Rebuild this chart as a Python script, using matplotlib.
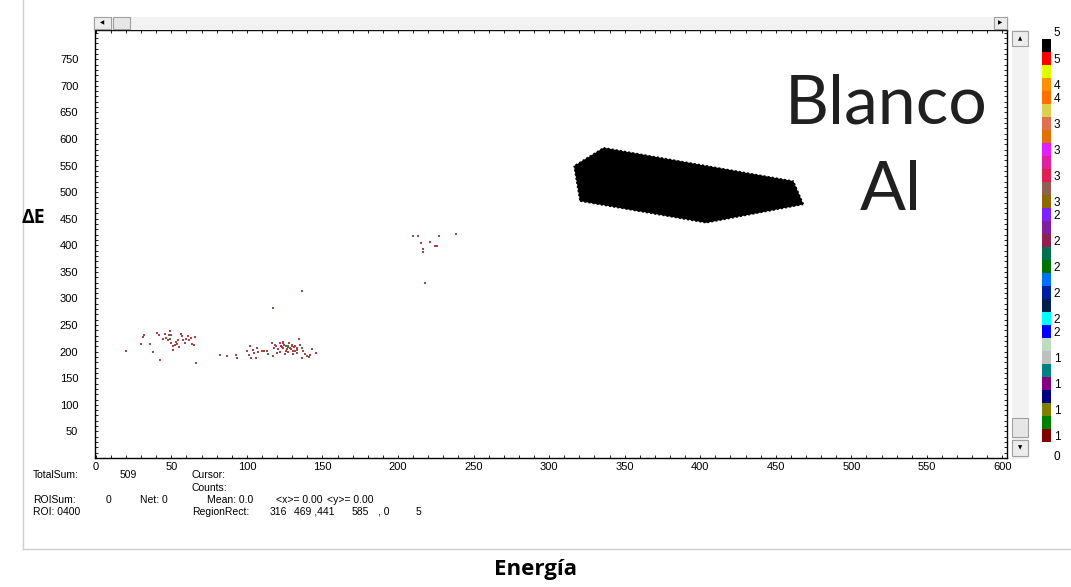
import matplotlib
matplotlib.use('Agg')
import matplotlib.pyplot as plt
from matplotlib.patches import Rectangle, Polygon
from matplotlib.lines import Line2D
from matplotlib.ticker import MultipleLocator

# Events outside the gate (channel E, channel dE), low counts
energia = [19.9, 30.2, 32, 31.3, 36.2, 38, 40.6, 41.9, 42.4, 45.7, 46.8, 48.5, 49, 50,
           44.6, 47.9, 49.7, 51.2, 50.8, 52.3, 53.8, 53, 54.5, 55.2, 56.1, 56.9, 57.8,
           58.9, 59.6, 61.1, 61.8, 63.3, 64, 65.6, 65.1, 66.6,
           82, 87, 92.7, 93.2, 100.2, 102, 101.5, 102.4, 104.2, 104.6, 106.4, 105.9,
           107.5, 109.7, 111.3, 113.5, 116.3, 117, 118.5, 120.1, 121.9, 123, 123.6,
           124.5, 126.3, 128, 128.5, 127.4, 129.6, 130.7, 131.8, 132.9, 133.3, 134.6,
           135.1, 137.3, 138.4, 139.5, 141.7, 142.8, 145.7, 141.3, 136.8, 130.7, 125.2,
           121.9, 120.7, 117.9, 119.2, 127, 129, 131, 133, 126, 124, 130, 132,
           117, 136.6,
           209.7, 213.2, 215.4, 221.2, 226.9, 238.2, 216.3, 216.3, 224.2, 226, 218]
delta_e = [202, 215, 232, 227, 214, 200, 235, 231, 185, 234, 226, 232, 239, 232,
           224, 221, 216, 210, 204, 213, 215, 219, 221, 209, 234, 229, 221,
           216, 224, 229, 221, 226, 215, 228, 213, 179,
           193, 192, 193, 189, 201, 211, 194, 189, 204, 198, 207, 188,
           200, 202, 202, 201, 216, 191, 213, 198, 216, 209, 219,
           213, 205, 216, 207, 199, 213, 202, 211, 207, 198, 224,
           213, 202, 196, 191, 194, 205, 198, 190, 189, 196, 196,
           199, 205, 207, 211, 208, 205, 208, 204, 202, 206, 210, 201,
           282, 314,
           418, 418, 405, 406, 418, 422, 393, 388, 398, 398, 329]

# cells with higher counts
energia_g = [125.8, 136.2, 114, 127.5, 49]
delta_e_g = [211, 207, 196, 211, 224]
energia_m = [122.3, 123.6]
delta_e_m = [211, 216]

# Al gate (RegionRect 316..469, 441..585)
region_x = [336, 316, 317, 320, 404, 469, 462]
region_y = [585, 550, 532, 482, 441, 476, 522]

# counts palette, bottom to top
scale_colors = ['#800000', '#008000', '#808000', '#000080', '#800080', '#008080',
                '#c0c0c0', '#c0dcc0', '#0000ff', '#00ffff', '#002050', '#0020a0',
                '#0070ff', '#007000', '#007050', '#902050', '#8020a0', '#8020ff',
                '#906800', '#906050', '#e02050', '#e020a0', '#e020ff', '#e07000',
                '#e07050', '#dcd050', '#ff7000', '#ff9000', '#e0ff00', '#ff0000',
                '#000000']
scale_ticks = [31, 29, 27, 26, 24, 22, 20, 18, 17, 15, 13, 11, 9, 8, 6, 4, 2, 0, -1]
scale_labels = ['5', '5', '4', '4', '3', '3', '3', '3', '2', '2', '2', '2', '2', '2',
                '1', '1', '1', '1', '0']

x_ticks = list(range(0, 601, 50))
y_ticks = list(range(50, 751, 50))

W, H = 1071, 587


def fx(px):
    return px / W


def fy(py):
    return 1 - py / H


fig = plt.figure(figsize=(10.71, 5.87), dpi=100)
fig.patch.set_facecolor('white')

ax = fig.add_axes([fx(95), fy(458), fx(1007) - fx(95), fy(30) - fy(458)])
ax.scatter(energia, delta_e, s=3, marker='s', color='#a84444', linewidths=0, zorder=3)
ax.scatter(energia_g, delta_e_g, s=3, marker='s', color='#2a8a2a', linewidths=0, zorder=4)
ax.scatter(energia_m, delta_e_m, s=3, marker='s', color='#c02070', linewidths=0, zorder=4)
ax.add_patch(Polygon(list(zip(region_x, region_y)), closed=True, facecolor='black',
                     edgecolor='white', linewidth=1, linestyle=(0, (1.5, 1.5)), zorder=5))

ax.set_xlim(-0.5, 603)
ax.set_ylim(0, 805)
ax.set_xticks(x_ticks)
ax.set_yticks(y_ticks)
ax.xaxis.set_minor_locator(MultipleLocator(10))
ax.yaxis.set_minor_locator(MultipleLocator(10))
ax.tick_params(which='both', direction='in', top=True, right=True, length=2.5, width=0.6,
               labelsize=8)
ax.tick_params(axis='x', pad=3)
ax.tick_params(axis='y', pad=12)
for lab in ax.get_xticklabels() + ax.get_yticklabels():
    lab.set_family('Liberation Sans')
for sp in ax.spines.values():
    sp.set_linewidth(1.0)

# title-like labels
ax.text(0.868, 0.825, 'Blanco', transform=ax.transAxes, ha='center', va='center',
        fontsize=49, family='Lato', color='#202020')
ax.text(0.873, 0.625, 'Al', transform=ax.transAxes, ha='center', va='center',
        fontsize=49, family='Lato', color='#202020')
fig.text(fx(33), fy(218), 'ΔE', ha='center', va='center', fontsize=14,
         fontweight='bold', family=['Open Sans', 'DejaVu Sans'])
fig.text(fx(535), fy(570), 'Energía', ha='center', va='center', fontsize=16,
         fontweight='bold', family='Open Sans')

# window frame
fig.add_artist(Line2D([fx(23), fx(23)], [fy(0), fy(549)], color='#cfcfcf', lw=1))
fig.add_artist(Line2D([fx(23), fx(1071)], [fy(549), fy(549)], color='#cfcfcf', lw=1))


def box(x0, y0, x1, y1, face, edge='#a0a0a0'):
    fig.add_artist(Rectangle((fx(x0), fy(y1)), fx(x1) - fx(x0), fy(y0) - fy(y1),
                             transform=fig.transFigure, facecolor=face, edgecolor=edge,
                             linewidth=0.8))


# scroll bars
box(93, 17, 1008, 29, '#f2f2f2', '#f2f2f2')
box(94, 17, 111, 29, '#ececec')
box(113, 17, 130, 29, '#e6e6e6')
box(994, 17, 1007, 29, '#ececec')
fig.text(fx(102.5), fy(23), '◀', ha='center', va='center', fontsize=4)
fig.text(fx(1000.5), fy(23), '▶', ha='center', va='center', fontsize=4)
box(1012, 30, 1028, 458, '#f2f2f2', '#f2f2f2')
box(1012, 31, 1028, 46, '#ececec')
box(1012, 418, 1028, 437, '#e6e6e6')
box(1012, 440, 1028, 456, '#ececec')
fig.text(fx(1020), fy(38.5), '▲', ha='center', va='center', fontsize=4)
fig.text(fx(1020), fy(448), '▼', ha='center', va='center', fontsize=4)

# counts scale
cax = fig.add_axes([fx(1042), fy(442 + 410 / 31 * 1.1), fx(1051) - fx(1042),
                    410 / 31 * 32.1 / H])
cax.bar([0] * len(scale_colors), [1] * len(scale_colors), bottom=range(len(scale_colors)),
        color=scale_colors, width=1, align='center')
cax.set_xlim(-0.5, 0.5)
cax.set_ylim(-1.1, 31)
for sp in cax.spines.values():
    sp.set_visible(False)
cax.set_xticks([])
cax.yaxis.tick_right()
cax.set_yticks([t + 0.5 if t >= 0 else t for t in scale_ticks])
cax.set_yticklabels(scale_labels, family='Liberation Sans', fontsize=8.5)
cax.tick_params(axis='y', length=0, pad=2)

# status lines
info = [(33, 475, 'TotalSum:'), (120, 475, '509'), (192, 475, 'Cursor:'),
        (192, 488, 'Counts:'),
        (33, 500, 'ROISum:'), (106, 500, '0'), (140, 500, 'Net: 0'),
        (207, 500, 'Mean: 0.0'), (276, 500, '<x>= 0.00'), (327, 500, '<y>= 0.00'),
        (33, 512, 'ROI: 0400'), (192, 512, 'RegionRect:'), (270, 512, '316'),
        (294, 512, '469 ,441'), (352, 512, '585'), (378, 512, ', 0'), (416, 512, '5')]
for px, py, s in info:
    fig.text(fx(px), fy(py), s, ha='left', va='center', fontsize=7.5,
             family='Liberation Sans')

fig.savefig('out.png', dpi=100)
